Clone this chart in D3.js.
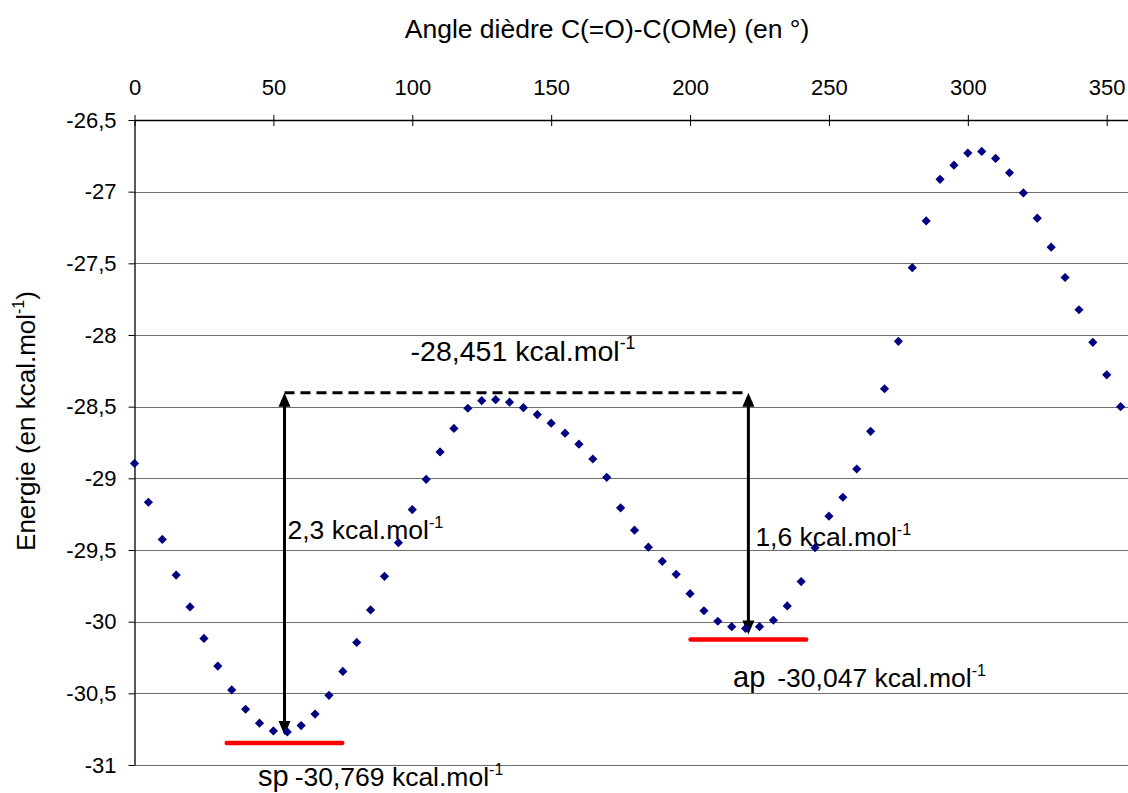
<!DOCTYPE html>
<html>
<head>
<meta charset="utf-8">
<script src="https://cdn.jsdelivr.net/npm/d3@7"></script>
<style>
  html, body { margin: 0; padding: 0; background: #fff; }
  svg { display: block; font-family: "Liberation Sans", Arial, sans-serif; }
</style>
</head>
<body>
<svg id="chart" width="1128" height="793"></svg>
<script>
// Dihedral angle (degrees) scanned every 5°
const angles = [0,5,10,15,20,25,30,35,40,45,50,55,60,65,70,75,80,85,90,95,100,105,110,115,
  120,125,130,135,140,145,150,155,160,165,170,175,180,185,190,195,200,205,210,215,220,225,
  230,235,240,245,250,255,260,265,270,275,280,285,290,295,300,305,310,315,320,325,330,335,
  340,345,350,355];

// Energy (kcal/mol) at each angle
const energies = [-28.896,-29.167,-29.426,-29.675,-29.897,-30.117,-30.310,-30.476,-30.611,
  -30.708,-30.762,-30.769,-30.725,-30.645,-30.514,-30.347,-30.145,-29.918,-29.684,-29.449,
  -29.218,-29.007,-28.816,-28.652,-28.511,-28.458,-28.451,-28.469,-28.507,-28.555,-28.615,
  -28.685,-28.762,-28.865,-28.993,-29.206,-29.362,-29.480,-29.579,-29.670,-29.805,-29.924,
  -29.997,-30.035,-30.047,-30.035,-29.990,-29.890,-29.720,-29.484,-29.264,-29.132,-28.935,
  -28.672,-28.375,-28.044,-27.530,-27.204,-26.914,-26.815,-26.731,-26.719,-26.768,-26.868,
  -27.009,-27.185,-27.387,-27.599,-27.824,-28.051,-28.278,-28.500];

const xTicks = [0,50,100,150,200,250,300,350];
const yTicks = [-31,-30.5,-30,-29.5,-29,-28.5,-28,-27.5,-27,-26.5];
const yTickLabels = ["-31","-30,5","-30","-29,5","-29","-28,5","-28","-27,5","-27","-26,5"];

// Conformers and barrier
const spAngle = 54, spEnergy = -30.769;
const apAngle = 221, apEnergy = -30.047;
const barrierEnergy = -28.451;
const spGap = "2,3", apGap = "1,6";

const svg = d3.select("#chart");
const x = d3.scaleLinear().domain([0, 360]).range([134.5, 1134.5]);
const y = d3.scaleLinear().domain([-31, -26.5]).range([765, 120]);
const fr = v => String(v).replace(".", ",");

// horizontal gridlines
svg.append("g")
  .selectAll("line")
  .data(yTicks.filter(d => d !== -26.5))
  .join("line")
  .attr("x1", x(0)).attr("x2", x(360))
  .attr("y1", d => Math.round(y(d)) + 0.5).attr("y2", d => Math.round(y(d)) + 0.5)
  .attr("stroke", "#6e6e6e").attr("stroke-width", 1.2);

// top x axis
const xAxis = svg.append("g")
  .attr("transform", `translate(0,${y(-26.5)})`)
  .call(d3.axisTop(x).tickValues(xTicks).tickSizeInner(5).tickSizeOuter(0).tickPadding(20));
xAxis.select(".domain").attr("stroke", "#000").attr("stroke-width", 1.3);
xAxis.selectAll(".tick line").attr("y1", -5).attr("y2", 6).attr("stroke", "#000");
xAxis.selectAll(".tick text").attr("font-size", 22).attr("fill", "#000")
  .attr("font-family", "Liberation Sans, Arial, sans-serif");

// left y axis
const yAxis = svg.append("g")
  .attr("transform", `translate(${x(0)},0)`)
  .call(d3.axisLeft(y).tickValues(yTicks)
    .tickFormat((d, i) => yTickLabels[i])
    .tickSizeInner(6).tickSizeOuter(0).tickPadding(12));
yAxis.select(".domain").attr("stroke", "#000").attr("stroke-width", 1.3);
yAxis.selectAll(".tick line").attr("stroke", "#000");
yAxis.selectAll(".tick text").attr("font-size", 22).attr("fill", "#000")
  .attr("font-family", "Liberation Sans, Arial, sans-serif");

// text with a "-1" superscript
function supText(g, px, py, main, size, anchor) {
  const t = g.append("text")
    .attr("x", px).attr("y", py)
    .attr("font-size", size)
    .attr("text-anchor", anchor || "start")
    .attr("fill", "#000");
  t.append("tspan").text(main);
  t.append("tspan").attr("dy", -size * 0.42).attr("font-size", size * 0.62).text("-1");
  return t;
}

// axis titles
svg.append("text")
  .attr("x", 607).attr("y", 38)
  .attr("text-anchor", "middle")
  .attr("font-size", 26.5)
  .text("Angle dièdre C(=O)-C(OMe) (en °)");

const yLab = svg.append("text")
  .attr("transform", "translate(35,421) rotate(-90)")
  .attr("text-anchor", "middle")
  .attr("font-size", 26);
yLab.append("tspan").text("Energie (en kcal.mol");
yLab.append("tspan").attr("dy", -11).attr("font-size", 16).text("-1");
yLab.append("tspan").attr("dy", 11).text(")");

// annotations
const ann = svg.append("g");
const guideY = y(barrierEnergy) - 7;
const spY = y(spEnergy), apY = y(apEnergy);

ann.append("line")
  .attr("x1", x(spAngle)).attr("x2", x(apAngle))
  .attr("y1", guideY).attr("y2", guideY)
  .attr("stroke", "#000").attr("stroke-width", 3)
  .attr("stroke-dasharray", "10,6");

// red baselines under each minimum
[[spAngle, spY], [apAngle, apY]].forEach(([a, yy]) => {
  ann.append("line")
    .attr("x1", x(a - 20.8)).attr("x2", x(a + 20.8))
    .attr("y1", yy + 11).attr("y2", yy + 11)
    .attr("stroke", "#ff0000").attr("stroke-width", 4.5)
    .attr("stroke-linecap", "round");
});

// double-headed arrows
function arrow(a, yTop, yBot) {
  const cx = x(a);
  ann.append("line")
    .attr("x1", cx).attr("x2", cx)
    .attr("y1", yTop + 12).attr("y2", yBot - 12)
    .attr("stroke", "#000").attr("stroke-width", 3);
  ann.append("path")
    .attr("d", `M${cx},${yTop}L${cx - 6},${yTop + 14}L${cx + 6},${yTop + 14}Z`)
    .attr("fill", "#000");
  ann.append("path")
    .attr("d", `M${cx},${yBot}L${cx - 6},${yBot - 14}L${cx + 6},${yBot - 14}Z`)
    .attr("fill", "#000");
}
arrow(spAngle, guideY, spY + 3);
arrow(apAngle, guideY, apY + 6);

supText(ann, x(spAngle) + 3, 539, spGap + " kcal.mol", 26.5);
supText(ann, x(apAngle) + 7, 546, apGap + " kcal.mol", 26.5);
supText(ann, 523, 361, fr(barrierEnergy) + " kcal.mol", 28.5, "middle");

// conformer labels
const apT = ann.append("text").attr("x", 733).attr("y", 687).attr("fill", "#000");
apT.append("tspan").attr("font-size", 29).text("ap");
apT.append("tspan").attr("font-size", 26.5).attr("dx", 12).text(fr(apEnergy) + " kcal.mol");
apT.append("tspan").attr("font-size", 16).attr("dy", -11).text("-1");

const spT = ann.append("text").attr("x", 258).attr("y", 786).attr("fill", "#000");
spT.append("tspan").attr("font-size", 29).text("sp");
spT.append("tspan").attr("font-size", 26.5).attr("dx", 6).text(fr(spEnergy) + " kcal.mol");
spT.append("tspan").attr("font-size", 16).attr("dy", -11).text("-1");

// data points as diamonds
svg.append("g")
  .selectAll("path")
  .data(angles.map((a, i) => [a, energies[i]]))
  .join("path")
  .attr("transform", d => `translate(${x(d[0])},${y(d[1])})`)
  .attr("d", "M0,-4.6L4.6,0L0,4.6L-4.6,0Z")
  .attr("fill", "#000080");
</script>
</body>
</html>
